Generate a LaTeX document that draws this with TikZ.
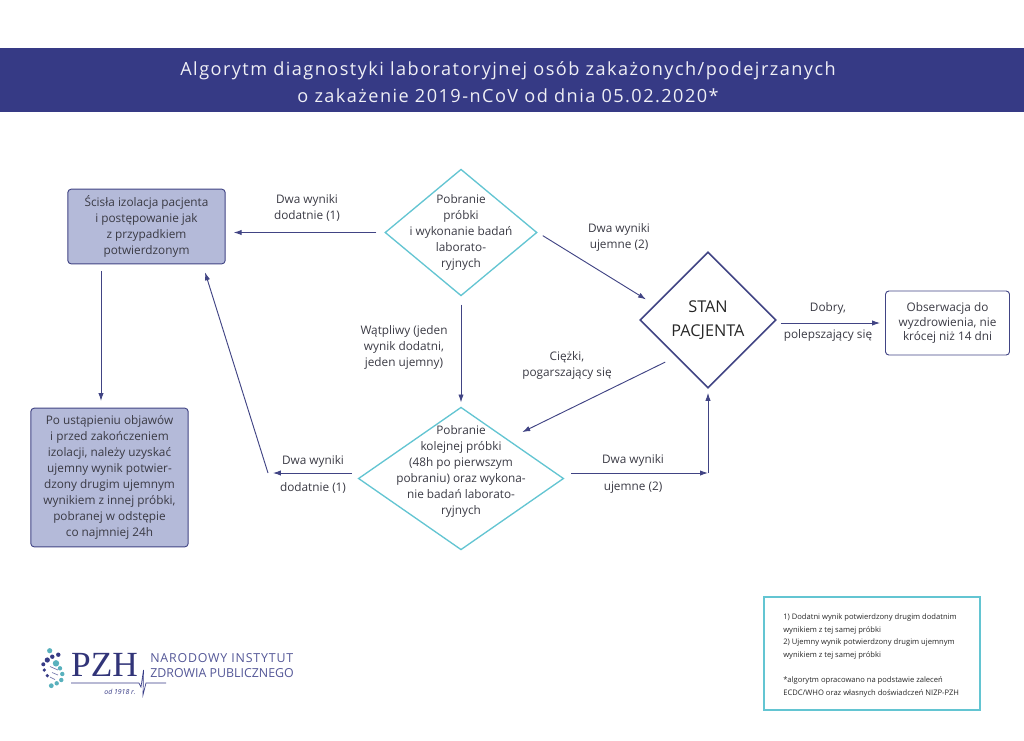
\documentclass[tikz,border=0pt]{standalone}
\usepackage{fontspec}
\setmainfont{Open Sans}
\newfontfamily\pzhserif{Liberation Serif}
\usetikzlibrary{shapes.geometric,positioning,arrows.meta}
\definecolor{granat}{HTML}{363A85}
\definecolor{liliowy}{HTML}{B4BAD9}
\definecolor{morski}{HTML}{63C5D2}
\definecolor{tekst}{HTML}{3A3A44}
\begin{document}
\begin{tikzpicture}[x=0.75pt,y=-0.75pt]
		\tikzstyle{blok}=[rectangle, rounded corners=2.5pt, draw=granat!85!gray, line width=0.7pt, align=center, text=tekst, font=\fontsize{8.85}{12}\selectfont]
		\tikzstyle{ciemny}=[blok, fill=liliowy]
		\tikzstyle{romb}=[diamond, aspect=1, inner sep=0pt, draw=morski, line width=1pt]
		\tikzstyle{tresc}=[align=center, text=tekst, font=\fontsize{8.85}{12}\selectfont]
		\tikzstyle{opis}=[tresc]
		\tikzstyle{connect}=[-{Latex[length=6pt,width=4pt]}, draw=granat!85!gray, line width=0.7pt]
		\useasboundingbox (0,0) rectangle (1024,740);

		\fill[granat] (0,48) rectangle (1024,112);
		\node[align=center, text=white!92!granat, font=\fontsize{13.6}{20.2}\selectfont\addfontfeature{LetterSpace=8}] (tytul) at (508,82)
			{Algorytm diagnostyki laboratoryjnej osób zakażonych/podejrzanych\\o zakażenie 2019-nCoV od dnia 05.02.2020*};

		\node[ciemny, minimum width=118pt, minimum height=56pt] (izolacja) at (146.5,226.5)
			{Ścisła izolacja pacjenta\\i postępowanie jak\\z przypadkiem\\potwierdzonym};
		\node[ciemny, minimum width=118pt, minimum height=104pt] (objawy) at (109.5,477.5)
			{Po ustąpieniu objawów\\i przed zakończeniem\\izolacji, należy uzyskać\\ujemny wynik potwier-\\dzony drugim ujemnym\\wynikiem z innej próbki,\\pobranej w odstępie\\co najmniej 24h};
		\node[blok, minimum width=93pt, minimum height=48pt, font=\fontsize{8.85}{10.9}\selectfont] (obserwacja) at (947.5,323)
			{Obserwacja do\\wyzdrowienia, nie\\krócej niż 14 dni};

		\node[romb, minimum width=114pt, minimum height=95pt, label={[tresc]center:{Pobranie\\próbki\\i wykonanie badań\\laborato-\\ryjnych}}] (probka) at (461,232.5) { };
		\node[romb, minimum width=154pt, minimum height=107pt, label={[tresc, yshift=5.5pt]center:{Pobranie\\kolejnej próbki\\(48h po pierwszym\\pobraniu) oraz wykona-\\nie badań laborato-\\ryjnych}}] (kolejna) at (461,478.5) { };
		\node[diamond, aspect=1, inner sep=0pt, draw=granat!85!gray, line width=1.2pt, minimum width=102pt, minimum height=102pt, align=center, text=black!85, font=\fontsize{12.2}{18}\selectfont] (stan) at (708,320) {\raisebox{1.5pt}{\parbox{66pt}{\centering STAN\\PACJENTA}}};

		\coordinate (kolano1) at (708,473);
		\coordinate (kolano2) at (268,473);
		\coordinate (pion) at (101,300);

		\path (probka.west) edge [connect, shorten <=6pt, shorten >=6pt] (izolacja.east |- probka.west);
		\path (probka.east) edge [connect, shorten <=4.5pt, shorten >=7.5pt] (stan.164);
		\path (probka.south) edge [connect, shorten <=6pt, shorten >=3pt] (kolejna.north);
		\path (stan.229.6) edge [connect, shorten <=9pt, shorten >=12pt] (kolejna.40);
		\path (kolano1 -| kolejna.east) edge [connect, shorten <=5pt] (kolano1);
		\path (kolano1) edge [connect, shorten >=3pt] (stan.south);
		\path (kolano2 -| kolejna.west) edge [connect, shorten <=4.5pt, shorten >=3.7pt] (kolano2);
		\path (kolano2) edge [connect, shorten >=6.3pt] (izolacja.-34.3);
		\path (izolacja.south -| pion) edge [connect, shorten <=5pt, shorten >=5pt] (objawy.north -| pion);
		\path (obserwacja.west -| stan.east) edge [connect, shorten <=3pt, shorten >=3.7pt] (obserwacja.west);

		\node[opis] (opis1) at (307,207.5) {Dwa wyniki\\dodatnie (1)};
		\node[opis] (opis2) at (619,237) {Dwa wyniki\\ujemne (2)};
		\node[opis] (opis3) at (404,347.5) {Wątpliwy (jeden\\wynik dodatni,\\jeden ujemny)};
		\node[opis] (opis4) at (567,365.5) {Ciężki,\\pogarszający się};
		\node[opis, font=\fontsize{8.85}{20}\selectfont] (opis5) at (633,474) {Dwa wyniki\\ujemne (2)};
		\node[opis, font=\fontsize{8.85}{20}\selectfont] (opis6) at (313,474.5) {Dwa wyniki\\dodatnie (1)};
		\node[opis, font=\fontsize{8.85}{20}\selectfont] (opis7) at (828,322) {Dobry,\\polepszający się};

		\node[rectangle, draw=morski, line width=1pt, minimum width=162pt, minimum height=84.7pt] (ramka) at (872,653.5) { };
		\node[align=left, anchor=north west, inner sep=0pt, text=black!85, font=\fontsize{5.7}{9.5}\selectfont] (przypisy) at (783,613.5)
			{1) Dodatni wynik potwierdzony drugim dodatnim\\wynikiem z tej samej próbki\\2) Ujemny wynik potwierdzony drugim ujemnym\\wynikiem z tej samej próbki\\[9.5pt]*algorytm opracowano na podstawie zaleceń\\ECDC/WHO oraz własnych doświadczeń NIZP-PZH};

		% logo
		\foreach \x/\y/\r in {49.7/650.7/2.6, 56/663.3/3.2, 60/668.3/2.2, 62.3/674/2.2, 61.3/680/2.2, 56.7/683.3/2.2, 51.3/685.7/2.4}
			\fill[morski!90!black] (\x,\y) circle (\r*0.75pt);
		\foreach \x/\y/\r in {58.3/654.7/2.2, 52.3/656.7/2.2, 47.3/660/2.6, 43.3/664.3/2, 44.3/670/1.8, 47.3/675.7/1.8}
			\fill[granat] (\x,\y) circle (\r*0.75pt);
		\draw[granat!70, line width=0.5pt] (50,666.5) -- (58,670);
		\draw[granat!70, line width=0.5pt] (52,672.5) -- (58,675);
		\draw[granat!70, line width=0.5pt] (50,677) -- (55,679.5);
		\node[inner sep=0pt, text=granat!90!black, font=\pzhserif\fontsize{26.5}{26.5}\selectfont] (pzh) at (104.5,664.5) {PZH};
		\draw[granat, line width=0.5pt] (71,683) -- (139,683) -- (141,687) -- (143.5,670) -- (143,695) -- (146,683) -- (166,683);
		\node[inner sep=0pt, text=granat, font=\fontsize{5.2}{6}\selectfont\itshape] (rok) at (120,692) {od 1918 r.};
		\node[anchor=west, inner sep=0pt, text=granat!85, font=\fontsize{9.3}{11}\selectfont\addfontfeature{LetterSpace=6.5}] (nazwa1) at (150,658) {NARODOWY INSTYTUT};
		\node[anchor=west, inner sep=0pt, text=granat!85, font=\fontsize{9.3}{11}\selectfont] (nazwa2) at (150,673) {ZDROWIA PUBLICZNEGO};
\end{tikzpicture}
\end{document}
